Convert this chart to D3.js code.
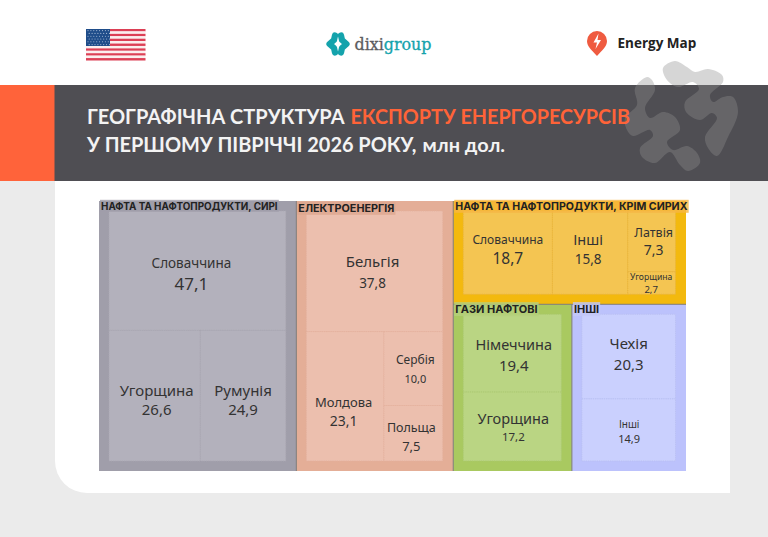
<!DOCTYPE html>
<html><head><meta charset="utf-8">
<script src="https://cdn.jsdelivr.net/npm/d3@7"></script>
<style>html,body{margin:0;padding:0;background:#ebebeb;overflow:hidden}svg{display:block}text{font-family:"Noto Sans",sans-serif}</style>
</head><body><svg id="c" width="768" height="537"></svg>
<script>
const titleLine1 = ["ГЕОГРАФІЧНА СТРУКТУРА", "ЕКСПОРТУ ЕНЕРГОРЕСУРСІВ"];
const titleLine2 = ["У ПЕРШОМУ ПІВРІЧЧІ 2026 РОКУ,", "млн дол."];
const groupNames = ["НАФТА ТА НАФТОПРОДУКТИ, СИРІ","ЕЛЕКТРОЕНЕРГІЯ","НАФТА ТА НАФТОПРОДУКТИ, КРІМ СИРИХ","ГАЗИ НАФТОВІ","ІНШІ"];
const crudeNames = ["Словаччина","Угорщина","Румунія"];
const crudeValues = [47.1,26.6,24.9];
const powerNames = ["Бельгія","Молдова","Сербія","Польща"];
const powerValues = [37.8,23.1,10.0,7.5];
const productNames = ["Словаччина","Інші","Латвія","Угорщина"];
const productValues = [18.7,15.8,7.3,2.7];
const gasNames = ["Німеччина","Угорщина"];
const gasValues = [19.4,17.2];
const otherNames = ["Чехія","Інші"];
const otherValues = [20.3,14.9];

const fmt = v => v.toFixed(1).replace(".",",");
const leaf = (names,vals,i) => ({name:names[i],value:vals[i],leaf:true});
const svg = d3.select("#c");

// page
const g0 = svg.append("g");
g0.append("rect").attr("width",768).attr("height",85).attr("fill","#fff");
g0.append("path").attr("d","M55 181H730V493H87A32 32 0 0 1 55 461Z").attr("fill","#fff");

// flag
const flag = svg.append("g");
const stripeY = d3.scaleBand().domain(d3.range(13)).range([29,60.5]);
flag.selectAll("rect").data(d3.range(13)).join("rect")
  .attr("x",86).attr("width",59.5).attr("y",d=>stripeY(d)).attr("height",stripeY.bandwidth())
  .attr("fill",d=>d%2?"#fbeeee":"#dc3f55");
flag.append("rect").attr("x",86).attr("y",29).attr("width",24).attr("height",17).attr("fill","#1f4d8a");
for(let r=0;r<6;r++)for(let c=0;c<8;c++)flag.append("circle").attr("cx",88+c*2.9+(r%2)*1.2).attr("cy",30.6+r*2.8).attr("r",.55).attr("fill","#a9bdd8");

// dixi logo
const braceL=[[335,35.5],[334,40],[329.5,44],[334,48],[335,52.5]];
const braceR=[[341,35.5],[342,40],[346.5,44],[342,48],[341,52.5]];
[braceL,braceR].forEach(b=>svg.append("path").attr("d",d3.line().curve(d3.curveLinear)(b)).attr("fill","none").attr("stroke","#14a3ac").attr("stroke-width",6.2).attr("stroke-linejoin","round").attr("stroke-linecap","round"));
const dt = svg.append("text").attr("x",354.5).attr("y",49.5).attr("font-size",17.2).style("font-family","'DejaVu Serif Condensed','DejaVu Serif',serif").attr("textLength",77).attr("lengthAdjust","spacingAndGlyphs").attr("stroke-width",.3);
dt.append("tspan").attr("fill","#5c5c60").attr("stroke","#5c5c60").text("dixi");
dt.append("tspan").attr("fill","#14a3ac").attr("stroke","#14a3ac").text("group");

// energy map logo
svg.append("path").attr("d","M597 56C592 50 587 47 587 41A10 10 0 0 1 607 41C607 47 602 50 597 56Z").attr("fill","#ef5b40");
svg.append("path").attr("d","M598.5 33.5L593.5 42.5H597L595.5 49L601 40H597.5Z").attr("fill","#fff");
svg.append("text").attr("x",617.5).attr("y",48).attr("font-size",13.5).attr("font-weight",700).attr("fill","#222").style("font-family","'Open Sans'").text("Energy Map");

// band
svg.append("rect").attr("y",85).attr("width",768).attr("height",96).attr("fill","#4f4e53");
svg.append("rect").attr("y",85).attr("width",54.5).attr("height",96).attr("fill","#ff633a");

// watermark
const blobA=[[647,77],[635,88],[637,105],[625,118],[627,130],[633,136],[650,130],[653,136],[640,148],[642,157],[655,163],[670,152],[680,165],[688,171],[700,163],[697,153],[687,146],[673,150],[667,142],[680,130],[675,117],[663,112],[650,118],[645,108],[655,90],[652,80]];
const blobB=[[675,61],[663,68],[667,80],[678,87],[693,82],[699,89],[685,102],[686,112],[700,120],[712,113],[717,118],[705,137],[708,148],[717,156],[728,137],[738,112],[733,97],[723,97],[713,102],[710,95],[723,82],[722,75],[708,69],[695,72],[687,67]];
const blob=d3.line().curve(d3.curveCatmullRomClosed.alpha(.5));
[blobA,blobB].forEach(b=>svg.append("path").attr("d",blob(b)).attr("fill","#8e8e8e").attr("opacity",.364));

// title
const titlePart=(s,x,y,w,fs,fill)=>svg.append("text").attr("x",x).attr("y",y).attr("font-size",fs).attr("font-weight",700).style("font-family","Lato").attr("fill",fill).attr("textLength",w).attr("lengthAdjust","spacingAndGlyphs").text(s);
titlePart(titleLine1[0],87,124,257.5,20,"#f3f3f3");
titlePart(titleLine1[1],350.5,124,279.5,20,"#ff6338");
titlePart(titleLine2[0],87,151.5,329.5,20,"#f3f3f3");
titlePart(titleLine2[1],422.5,151.5,82.5,18.5,"#f3f3f3");

// treemap
const grp=(i,cls,children)=>({name:groupNames[i],cls,dir:"slice",children});
const tree={dir:"dice",children:[
  grp(0,0,[leaf(crudeNames,crudeValues,0),{dir:"dice",children:[leaf(crudeNames,crudeValues,1),leaf(crudeNames,crudeValues,2)]}]),
  grp(1,1,[leaf(powerNames,powerValues,0),{dir:"dice",children:[leaf(powerNames,powerValues,1),{dir:"slice",children:[leaf(powerNames,powerValues,2),leaf(powerNames,powerValues,3)]}]}]),
  {dir:"slice",children:[
    Object.assign(grp(2,2,[leaf(productNames,productValues,0),leaf(productNames,productValues,1),{dir:"slice",children:[leaf(productNames,productValues,2),leaf(productNames,productValues,3)]}]),{dir:"dice"}),
    {dir:"dice",children:[grp(3,3,[leaf(gasNames,gasValues,0),leaf(gasNames,gasValues,1)]),grp(4,4,[leaf(otherNames,otherValues,0),leaf(otherNames,otherValues,1)])]}
  ]}
]};
const root=d3.hierarchy(tree).sum(d=>d.leaf?d.value:0);
const isG=d=>d.data.cls!==undefined;
d3.treemap().size([587,270])
  .tile((n,x0,y0,x1,y1)=>(n.data.dir==="dice"?d3.treemapDice:d3.treemapSlice)(n,x0,y0,x1,y1))
  .paddingTop(n=>isG(n)?10:0).paddingBottom(n=>isG(n)?10:0).paddingLeft(n=>isG(n)?10:0).paddingRight(n=>isG(n)?10.5:0)(root);

const groupFill=["#a09eaa","#e4ae97","#f3b90e","#a9c960","#bcc2fc"];
const leafFill=["#b3b1bc","#ecbfae","#f4c552","#bad583","#cad0fe"];
const leafLine=["#a9a7b2","#e3b19e","#e6b340","#abc872","#b9bff0"];
const labelBg=["#a09eaa","#dda68f","#f6b744","#b5cf7c","#c3c8f8"];
const titleSize=[9.9,10.8,10.6,11,11];
// [name size, value size, dx, name dy, value dy]
const labelStyle={
"0-Словаччина":[13.5,17,-6,4,4],"0-Угорщина":[15,15,2,7,5],"0-Румунія":[15,15,0,7,5],
"1-Бельгія":[15,13.5,-2,2,3],"1-Молдова":[13,14,-1.5,17,16],"1-Сербія":[12,11,2,0,3],"1-Польща":[12.5,13,-2,4,5],
"2-Словаччина":[12,15.5,0,-2,-3],"2-Інші":[14.5,13.5,-2,-2,-2],"2-Латвія":[12.5,14,2,2,0],"2-Угорщина":[8.6,9.6,-.5,1,.5],
"3-Німеччина":[14.5,15,1.5,3,3],"3-Угорщина":[14.5,11.5,1,3,2],
"4-Чехія":[15,15,0,-1.5,-1.5],"4-Інші":[10,11,.5,2.5,2.5]};
const plot=svg.append("g").attr("transform","translate(99,201)");
const groups=root.descendants().filter(isG);
plot.selectAll("rect.g").data(groups).join("rect").attr("class","g")
  .attr("x",d=>d.x0).attr("y",d=>d.y0).attr("width",d=>d.x1-d.x0).attr("height",d=>d.y1-d.y0)
  .attr("fill",d=>groupFill[d.data.cls]);
groups.forEach(g=>{
  const c=g.data.cls;
  g.leaves().forEach(l=>{
    const w=l.x1-l.x0,h=l.y1-l.y0,key=c+"-"+l.data.name;
    const [ns,vs,dx,dn,dv]=labelStyle[key];
    plot.append("rect").attr("x",l.x0).attr("y",l.y0).attr("width",w).attr("height",h).attr("fill",leafFill[c]).attr("stroke",leafLine[c]).attr("stroke-width",.8).attr("stroke-dasharray","1.2 1");
    const cx=l.x0+w/2+dx,cy=l.y0+h/2,gap=(ns+vs)*0.62;
    plot.append("text").attr("x",cx).attr("y",cy-gap/2+ns*.18+dn).attr("text-anchor","middle").attr("font-size",ns).attr("fill","#333").text(l.data.name);
    plot.append("text").attr("x",cx).attr("y",cy+gap/2+vs*.36+dv).attr("text-anchor","middle").attr("font-size",vs).attr("fill","#333").text(fmt(l.data.value));
  });
  if(g.x0>0) plot.append("line").attr("x1",g.x0).attr("x2",g.x0).attr("y1",g.y0).attr("y2",g.y1).attr("stroke","#7d7a76").attr("stroke-width",1);
  if(g.y0>0) plot.append("line").attr("x1",g.x0).attr("x2",g.x1).attr("y1",g.y0).attr("y2",g.y0).attr("stroke","#7d7a76").attr("stroke-width",1);
  const lb=plot.append("text").attr("x",g.x0+2).attr("y",g.y0+(c===1?10.8:8.8)).attr("font-size",titleSize[c]).attr("font-weight",700).attr("fill","#222").style("font-family","Inter").text(g.data.name);
  const b=lb.node().getBBox();
  plot.insert("rect","text:last-of-type").attr("x",g.x0+1).attr("y",b.y).attr("width",b.width+2).attr("height",b.height).attr("fill",labelBg[c]).attr("opacity",.8);
  lb.raise();
});
</script></body></html>
